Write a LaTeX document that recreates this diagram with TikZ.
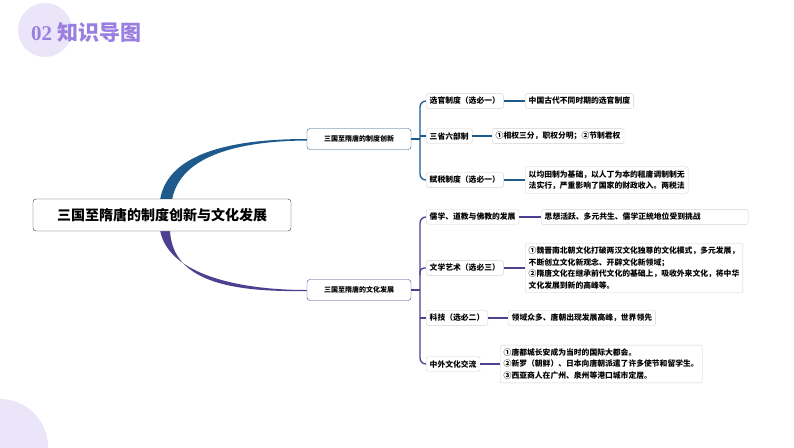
\documentclass[tikz,border=0pt]{standalone}
\usepackage{fontspec}
\setmainfont{Noto Sans CJK SC}
\newfontfamily\titlefont{Liberation Serif}
\begin{document}
\begin{tikzpicture}[x=1pt,y=-1pt,
 box/.style={draw=gray!35,rounded corners=2pt,fill=white,inner sep=3.5pt,font=\fontsize{7.8}{11.5}\selectfont\bfseries,align=left},
 br/.style={draw=#1,rounded corners=3pt,fill=white,minimum width=104pt,minimum height=21pt,font=\fontsize{7}{8}\selectfont\bfseries},
 tie/.style={line width=1.2pt,draw=#1}]
\definecolor{bA}{HTML}{1E5A8C}
\definecolor{bB}{HTML}{4E3F90}
\definecolor{tp}{HTML}{9A7FE0}
\useasboundingbox (0,0) rectangle (794,447);
\fill[tp!20] (45,30) circle (27);
\fill[tp!20] (0,447) circle (48);
\node[anchor=west,font=\fontsize{21}{22}\selectfont\bfseries,text=tp,inner sep=0] (title) at (31,33) {{\titlefont 02} 知识导图};
% curves
\fill[bA] (160,200) .. controls (168,150) and (240,139) .. (307,139) -- (307,140.5) .. controls (240,141) and (180,155) .. (172,200) -- cycle;
\fill[bB] (160,230) .. controls (168,275) and (240,290) .. (307,290) -- (307,291) .. controls (240,292) and (172,285) .. (170,230) -- cycle;
\node[draw=black!80,rounded corners=3pt,fill=white,minimum width=258pt,minimum height=32pt,font=\fontsize{14}{15}\selectfont\bfseries] (root) at (162,215) {三国至隋唐的制度创新与文化发展};
\node[br=bA] (b1) at (359,139) {三国至隋唐的制度创新};
\node[br=bB] (b2) at (359,290) {三国至隋唐的文化发展};
% branch 1 spine
\draw[bA,line width=1.3pt,rounded corners=6pt] (426,101) -- (420,101) -- (420,180) -- (426,180);
\draw[bA,line width=1.3pt] (b1.east) -- (420,139);
\node[box,anchor=west] (a1) at (426,101) {选官制度（选必一）};
\node[box,anchor=west] (a2) at (426,136) {三省六部制};
\draw[bA,line width=1.3pt] (420,136) -- (a2.west);
\node[box,anchor=west] (a3) at (426,180) {赋税制度（选必一）};
\node[box,anchor=west] (l1) at (525,101) {中国古代不同时期的选官制度};
\node[box,anchor=west] (l2) at (492,136) {①相权三分，职权分明；②节制君权};
\node[box,anchor=west] (l3) at (525,180) {以均田制为基础，以人丁为本的租庸调制制无\\法实行，严重影响了国家的财政收入。两税法};
\draw[tie=bA] (a1) -- (l1); \draw[tie=bA] (a2) -- (l2); \draw[tie=bA] (a3) -- (l3);
% branch 2 spine
\draw[bB,line width=1.3pt,rounded corners=6pt] (426,217) -- (420,217) -- (420,364) -- (426,364);
\draw[bB,line width=1.3pt] (b2.east) -- (420,290);
\draw[bB,line width=1.3pt,rounded corners=4pt] (420,275) -- (420,268) -- (426,268);
\draw[bB,line width=1.3pt] (420,318) -- (426,318);
\node[box,anchor=west] (c1) at (426,217) {儒学、道教与佛教的发展};
\node[box,anchor=west] (c2) at (426,268) {文学艺术（选必三）};
\node[box,anchor=west] (c3) at (426,318) {科技（选必二）};
\node[box,anchor=west] (c4) at (426,364) {中外文化交流};
\node[box,anchor=west,text width=200pt] (m1) at (541,217) {思想活跃、多元共生、儒学正统地位受到挑战};
\node[box,anchor=west] (m2) at (525,268) {①魏晋南北朝文化打破两汉文化独尊的文化模式，多元发展，\\不断创立文化新观念、开辟文化新领域；\\②隋唐文化在继承前代文化的基础上，吸收外来文化，将中华\\文化发展到新的高峰等。};
\node[box,anchor=west] (m3) at (508,318) {领域众多、唐朝出现发展高峰，世界领先};
\node[box,anchor=west] (m4) at (500,364) {①唐都城长安成为当时的国际大都会。\\②新罗（朝鲜）、日本向唐朝派遣了许多使节和留学生。\\③西亚商人在广州、泉州等港口城市定居。};
\draw[tie=bB] (c1) -- (m1); \draw[tie=bB] (c2) -- (m2); \draw[tie=bB] (c3) -- (m3); \draw[tie=bB] (c4) -- (m4);
\end{tikzpicture}
\end{document}
